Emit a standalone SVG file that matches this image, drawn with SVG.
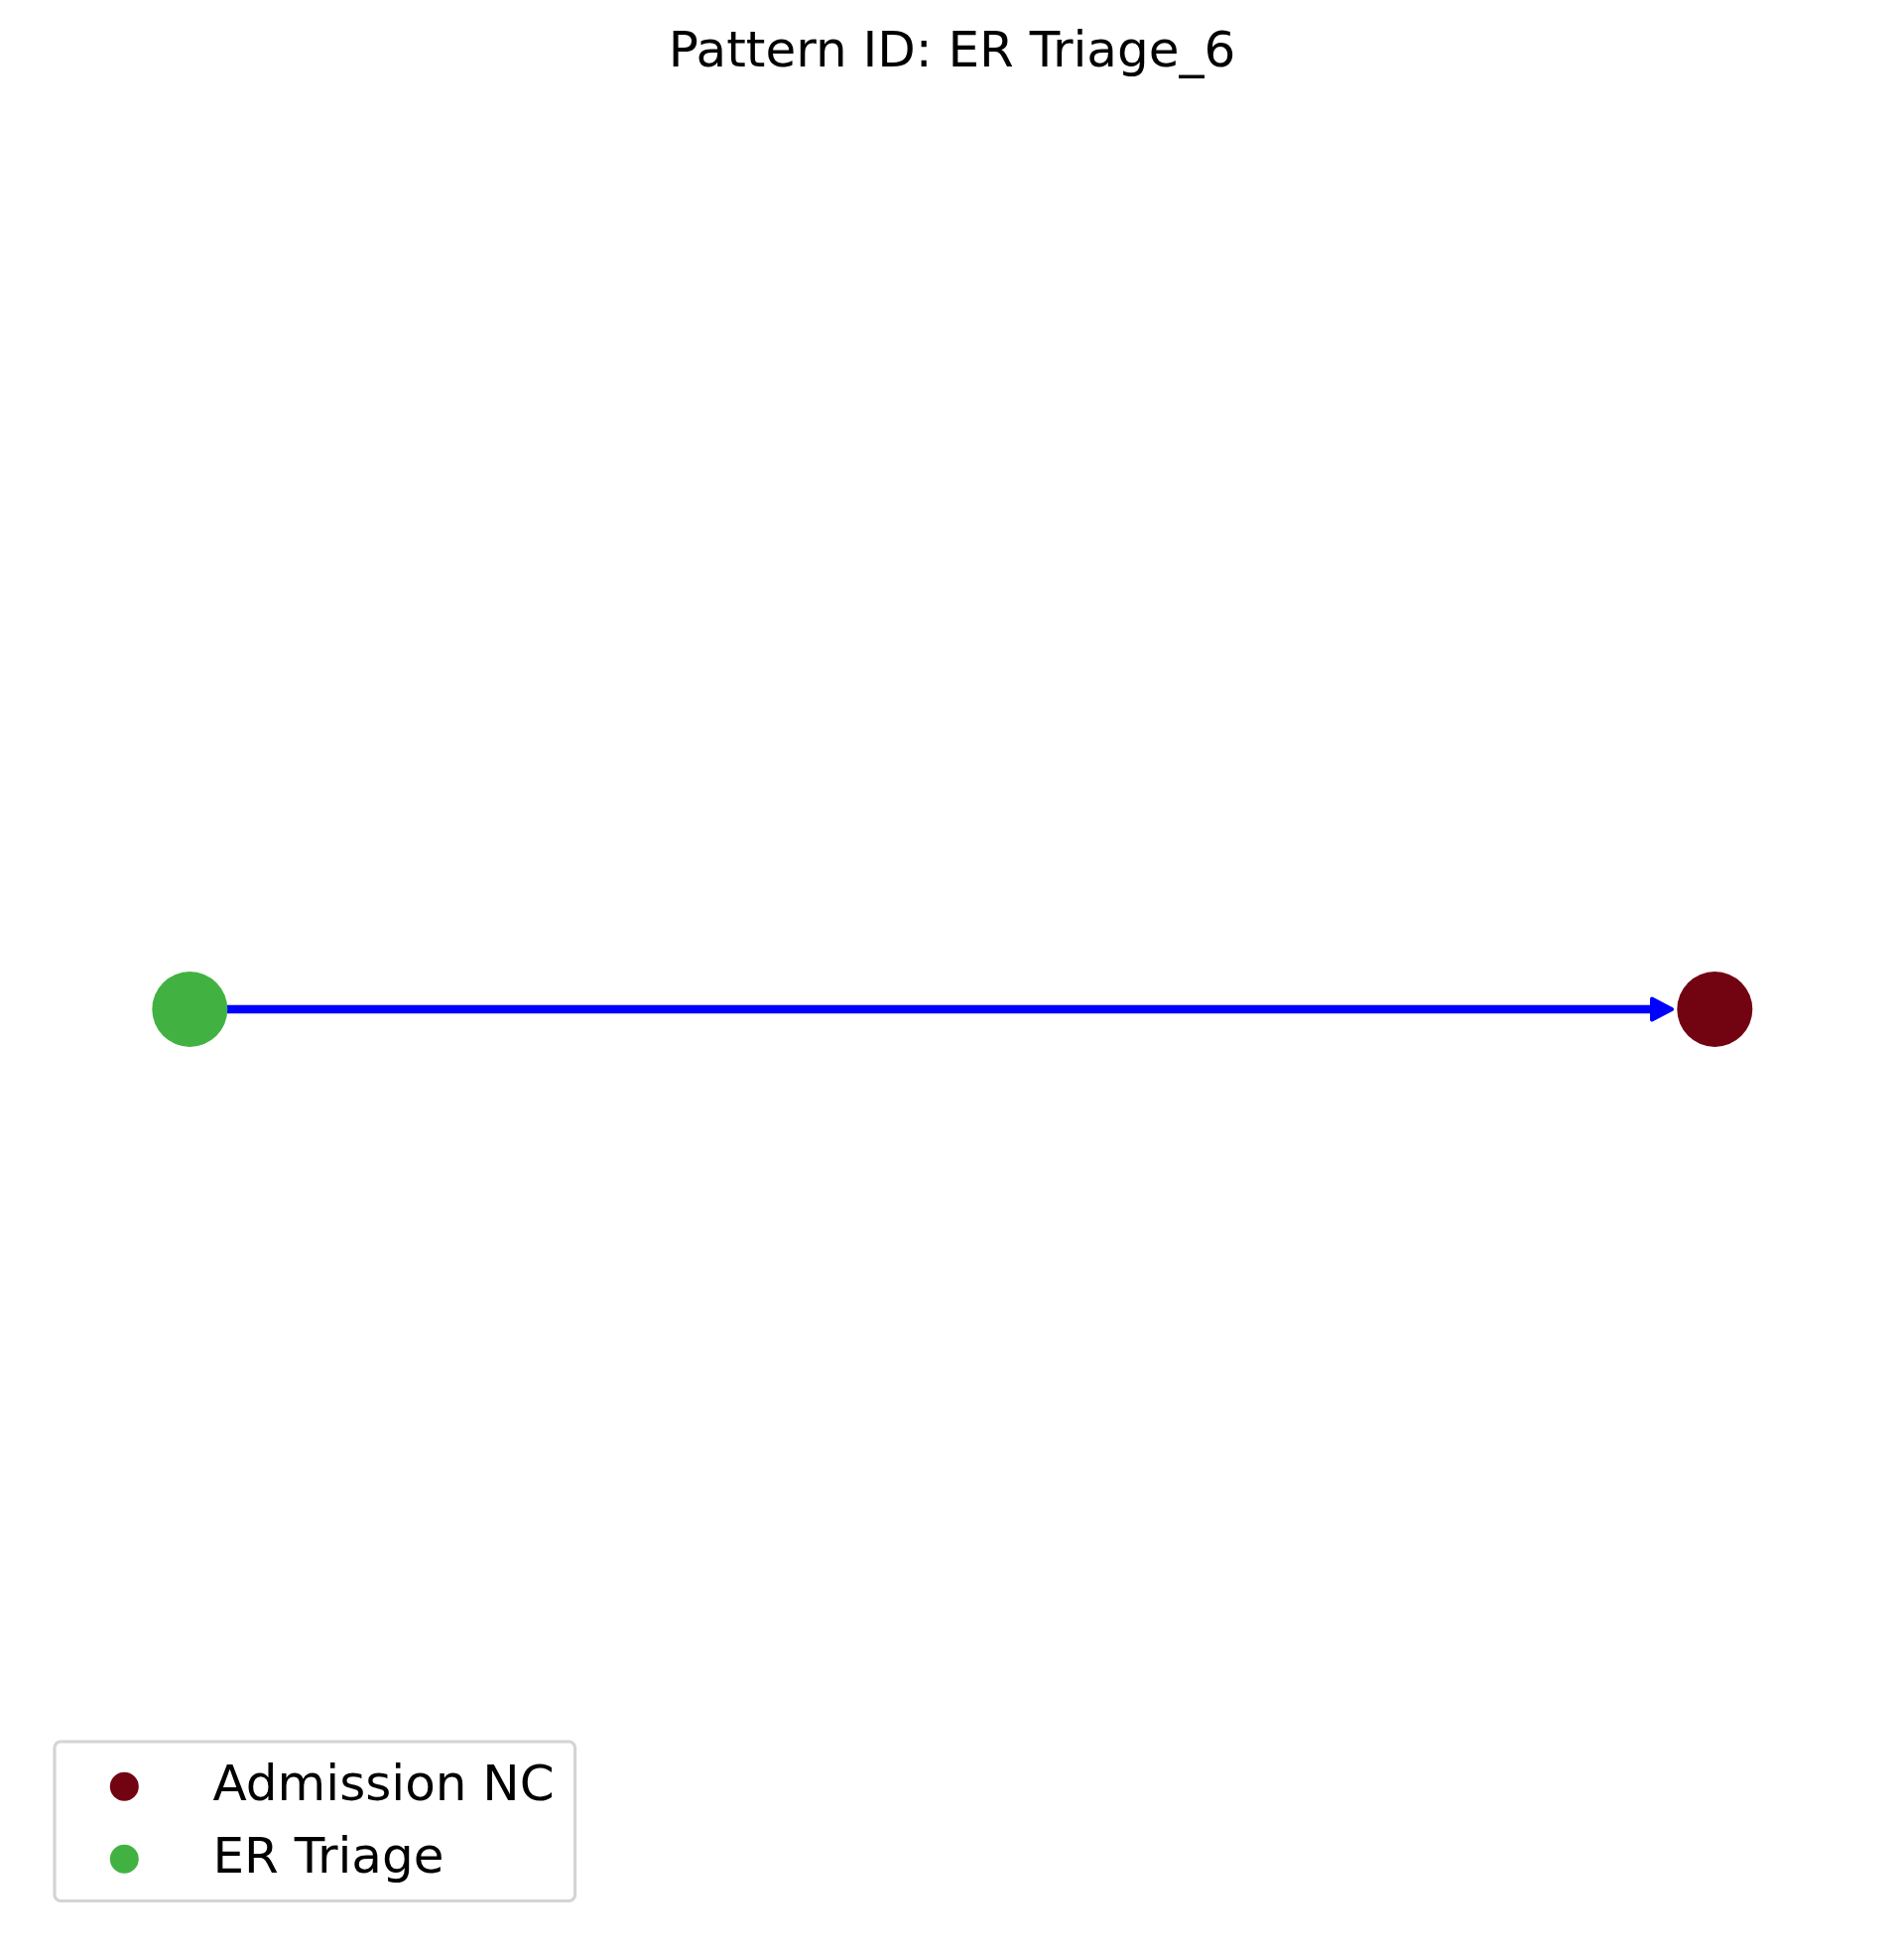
<svg xmlns="http://www.w3.org/2000/svg" width="1919" height="1971" viewBox="0 0 1919 1971">
<style>
text { font-family: "DejaVu Sans", "Liberation Sans", sans-serif; fill: #000000; }
.title { font-size: 50px; }
.leg { font-size: 50px; }
.er { fill: #41b241; }
.adm { fill: #720412; }
.edge { stroke: #0000ff; stroke-width: 8.5; fill: none; }
.head { fill: #0000ff; stroke: #0000ff; stroke-width: 4; stroke-linejoin: round; }
</style>
<rect x="0" y="0" width="1919" height="1971" fill="#ffffff"/>
<text class="title" x="959.5" y="67" text-anchor="middle">Pattern ID: ER Triage_6</text>
<g id="connectors">
  <line class="edge" x1="229" y1="1017" x2="1666" y2="1017"/>
  <polygon class="head" points="1665,1006.5 1685,1017 1665,1027.5"/>
</g>
<g id="node-er-triage">
  <circle class="er" cx="191.3" cy="1017" r="38"/>
</g>
<g id="node-admission-nc">
  <circle class="adm" cx="1728.3" cy="1017" r="38"/>
</g>
<g id="legend">
  <rect x="55" y="1755" width="524.5" height="160.5" rx="6" ry="6" fill="#ffffff" stroke="#d4d4d4" stroke-width="3.2"/>
  <circle class="adm" cx="125.3" cy="1800.3" r="14.5"/>
  <text class="leg" x="214.5" y="1814">Admission NC</text>
  <circle class="er" cx="125.3" cy="1873.3" r="14.5"/>
  <text class="leg" x="214.5" y="1887">ER Triage</text>
</g>
</svg>
